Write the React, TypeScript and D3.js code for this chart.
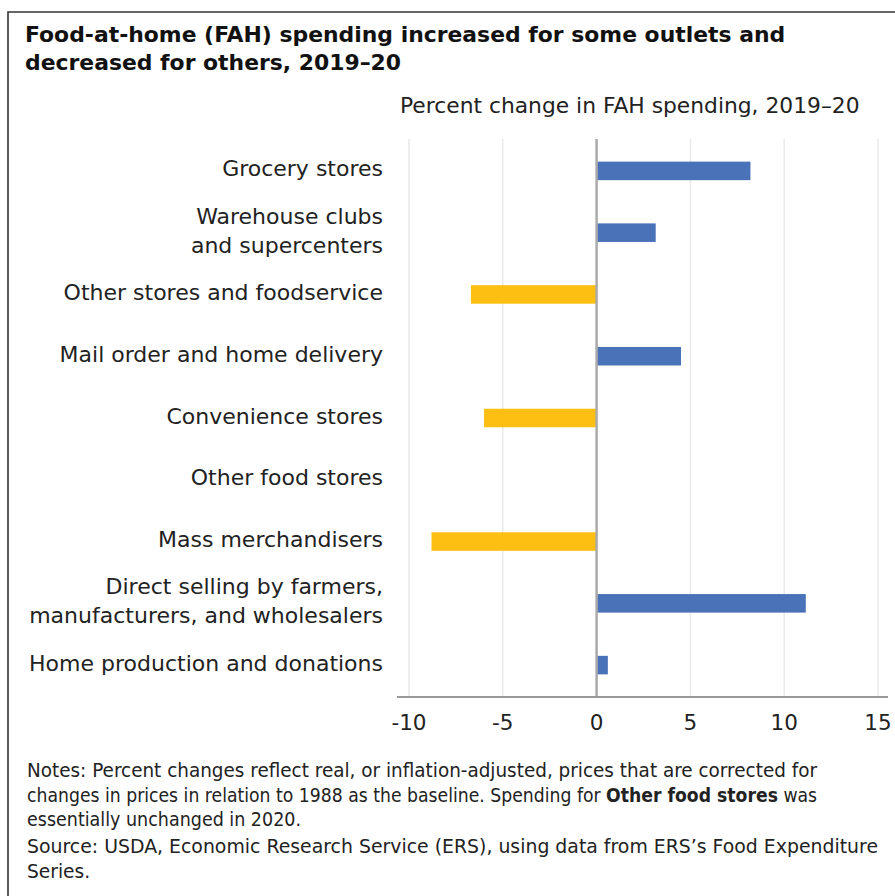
import React, { useLayoutEffect, useRef, useState } from "react";
import * as d3 from "d3";

const categories: string[] = [
  "Grocery stores",
  "Warehouse clubs\nand supercenters",
  "Other stores and foodservice",
  "Mail order and home delivery",
  "Convenience stores",
  "Other food stores",
  "Mass merchandisers",
  "Direct selling by farmers,\nmanufacturers, and wholesalers",
  "Home production and donations",
];
const values: number[] = [8.2, 3.15, -6.7, 4.5, -6.0, 0, -8.8, 11.15, 0.6];
const xTicks: number[] = [-10, -5, 0, 5, 10, 15];
const titleLines: string[] = [
  "Food-at-home (FAH) spending increased for some outlets and",
  "decreased for others, 2019–20",
];
const subtitle = "Percent change in FAH spending, 2019–20";

const W = 895;
const H = 896;
const FONT = "'DejaVu Sans', Verdana, sans-serif";
const BLUE = "#4A72B8";
const GOLD = "#FDBF11";

export default function App() {
  const x = d3.scaleLinear().domain([-10, 15]).range([409, 878]);
  const y = d3
    .scaleBand<string>()
    .domain(categories)
    .range([140, 696])
    .paddingInner(0.7)
    .paddingOuter(0.35);
  const axisY = 697;
  const plotTop = 139;

  const line2Ref = useRef<SVGTextElement>(null);
  const [line2Scale, setLine2Scale] = useState(0.928);
  useLayoutEffect(() => {
    const el = line2Ref.current;
    if (el) {
      const len = el.getComputedTextLength();
      if (len > 0) setLine2Scale(790 / len);
    }
  }, []);

  return (
    <div style={{ position: "absolute", left: 0, top: 0, width: W, height: H, background: "#fff" }}>
      <svg width={W} height={H} style={{ display: "block", fontFamily: FONT }}>
        <rect x={0} y={0} width={W} height={H} fill="#fff" />
        {/* frame */}
        <path d={`M8,${H} L8,12 L${W},12`} fill="none" stroke="#333" strokeWidth={1.6} />

        {/* title */}
        {titleLines.map((t, i) => (
          <text key={i} x={25} y={42 + i * 28} fontSize={21.9} fontWeight="bold" fill="#111">
            {t}
          </text>
        ))}
        <text x={400} y={113} fontSize={21.8} fill="#222">
          {subtitle}
        </text>

        {/* gridlines */}
        {xTicks
          .filter((t) => t !== 0)
          .map((t) => (
            <line key={t} x1={x(t)} x2={x(t)} y1={plotTop} y2={axisY} stroke="#e9e9e9" strokeWidth={1.5} />
          ))}

        {/* bars */}
        {categories.map((c, i) => {
          const v = values[i];
          const x0 = x(Math.min(0, v));
          const x1 = x(Math.max(0, v));
          return (
            <rect
              key={c}
              x={x0}
              y={y(c)!}
              width={x1 - x0}
              height={y.bandwidth()}
              fill={v >= 0 ? BLUE : GOLD}
            />
          );
        })}

        {/* zero line */}
        <line x1={x(0)} x2={x(0)} y1={plotTop} y2={axisY} stroke="#aaa" strokeWidth={2.5} />
        {/* axis line */}
        <line x1={397} x2={888} y1={axisY} y2={axisY} stroke="#999" strokeWidth={2} />

        {/* tick labels */}
        {xTicks.map((t) => (
          <text key={t} x={x(t)} y={730} fontSize={21.5} textAnchor="middle" fill="#222">
            {t < 0 ? "-" + Math.abs(t) : String(t)}
          </text>
        ))}

        {/* category labels */}
        {categories.map((c) => {
          const lines = c.split("\n");
          const center = y(c)! + y.bandwidth() / 2 - 2;
          return lines.map((ln, j) => (
            <text
              key={c + j}
              x={383}
              y={center + (j - (lines.length - 1) / 2) * 29 + 7.5}
              fontSize={22}
              textAnchor="end"
              fill="#222"
            >
              {ln}
            </text>
          ));
        })}

        {/* notes */}
        <g fontSize={18.6} fill="#222">
          <text x={27} y={777} textLength={790} lengthAdjust="spacingAndGlyphs">
            Notes: Percent changes reflect real, or inflation-adjusted, prices that are corrected for
          </text>
          <g transform={`translate(27,802) scale(${line2Scale},1)`}>
            <text ref={line2Ref} x={0} y={0}>
              changes in prices in relation to 1988 as the baseline. Spending for{" "}
              <tspan fontWeight="bold">Other food stores</tspan> was
            </text>
          </g>
          <text x={27} y={826} textLength={274} lengthAdjust="spacingAndGlyphs">
            essentially unchanged in 2020.
          </text>
          <text x={27} y={853} textLength={851} lengthAdjust="spacingAndGlyphs">
            Source: USDA, Economic Research Service (ERS), using data from ERS’s Food Expenditure
          </text>
          <text x={27} y={878}>Series.</text>
        </g>
      </svg>
    </div>
  );
}
